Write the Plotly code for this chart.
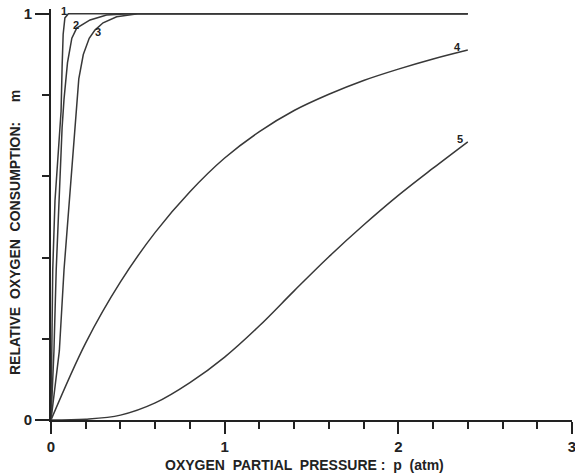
import plotly.graph_objects as go

# Curve data (p in atm, m relative consumption)
c1_p = [0, 0.004, 0.01, 0.023, 0.045, 0.058, 0.064, 0.07, 0.08, 0.1, 2.4]
c1_m = [0, 0.17, 0.37, 0.54, 0.68, 0.76, 0.87, 0.95, 0.99, 1.0, 1.0]

c2_p = [0, 0.017, 0.03, 0.046, 0.064, 0.075, 0.095, 0.12, 0.148, 0.225, 0.32, 0.45, 2.4]
c2_m = [0, 0.17, 0.37, 0.54, 0.72, 0.79, 0.88, 0.94, 0.965, 0.985, 0.997, 1.0, 1.0]

c3_p = [0, 0.048, 0.075, 0.105, 0.138, 0.16, 0.186, 0.22, 0.253, 0.3, 0.378, 0.5, 2.4]
c3_m = [0, 0.17, 0.37, 0.54, 0.74, 0.84, 0.9, 0.94, 0.96, 0.978, 0.993, 1.0, 1.0]

c4_p = [0, 0.2, 0.4, 0.6, 0.8, 1.0, 1.2, 1.4, 1.6, 1.8, 2.0, 2.2, 2.4]
c4_m = [0, 0.19, 0.34, 0.462, 0.562, 0.645, 0.71, 0.762, 0.802, 0.836, 0.864, 0.889, 0.911]

c5_p = [0, 0.2, 0.4, 0.6, 0.8, 1.0, 1.2, 1.4, 1.6, 1.8, 2.0, 2.2, 2.4]
c5_m = [0, 0.002, 0.012, 0.042, 0.092, 0.155, 0.232, 0.318, 0.402, 0.48, 0.553, 0.62, 0.685]

curve_labels = ["1", "2", "3", "4", "5"]
label_p = [0.072, 0.144, 0.273, 2.343, 2.355]
label_m = [1.007, 0.973, 0.956, 0.919, 0.693]

x_ticks = [0, 1, 2, 3]
y_ticks = [0, 1]

line_col = "#383838"
fig = go.Figure()
for px_, m_, shape in [(c1_p, c1_m, "linear"), (c2_p, c2_m, "linear"), (c3_p, c3_m, "linear"),
                       (c4_p, c4_m, "spline"), (c5_p, c5_m, "spline")]:
    fig.add_trace(go.Scatter(x=px_, y=m_, mode="lines", line_shape=shape,
                             line=dict(color=line_col, width=1.5), showlegend=False,
                             hoverinfo="skip"))

for t, x, y in zip(curve_labels, label_p, label_m):
    fig.add_annotation(x=x, y=y, text="<b>" + t + "</b>", showarrow=False,
                       font=dict(size=11, color="#222", family="Liberation Sans"))

tick_font = dict(size=15, color="#222", family="Liberation Sans", weight="bold")
fig.update_xaxes(range=[0, 3], tickvals=x_ticks, ticktext=[str(v) for v in x_ticks],
                 showgrid=False, zeroline=False, showline=True, linecolor="#222", linewidth=2,
                 ticks="outside", ticklen=12, tickwidth=1.5, tickcolor="#222",
                 tickfont=tick_font, automargin=False, ticklabeloverflow="allow",
                 minor=dict(dtick=0.2, tick0=0, ticks="outside", ticklen=7, tickwidth=1.5,
                            tickcolor="#222", showgrid=False))
fig.update_yaxes(range=[0, 1.012], tickvals=y_ticks, ticktext=[str(v) for v in y_ticks],
                 showgrid=False, zeroline=False, showline=True, linecolor="#222", linewidth=2,
                 ticks="outside", ticklen=14, tickwidth=1.5, tickcolor="#222",
                 tickfont=tick_font, automargin=False, ticklabeloverflow="allow",
                 minor=dict(dtick=0.2, tick0=0, ticks="outside", ticklen=7, tickwidth=1.5,
                            tickcolor="#222", showgrid=False))

title_font = dict(size=14, color="#222", family="Liberation Sans", weight="bold")
fig.add_annotation(xref="paper", yref="paper", x=0.4875, y=-0.1095, yanchor="middle",
                   text="OXYGEN  PARTIAL  PRESSURE :  p  (atm)", showarrow=False,
                   font=title_font)
fig.add_annotation(xref="paper", yref="paper", x=-0.069, y=0.455, xanchor="center",
                   yanchor="middle", textangle=-90,
                   text="RELATIVE  OXYGEN  CONSUMPTION:     m", showarrow=False,
                   font=title_font)

fig.update_layout(width=575, height=475, margin=dict(l=51, r=3, t=9, b=55),
                  plot_bgcolor="white", paper_bgcolor="white")
fig.write_html("out.html", config={"displayModeBar": False},
               post_script="document.body.style.margin='0';")
